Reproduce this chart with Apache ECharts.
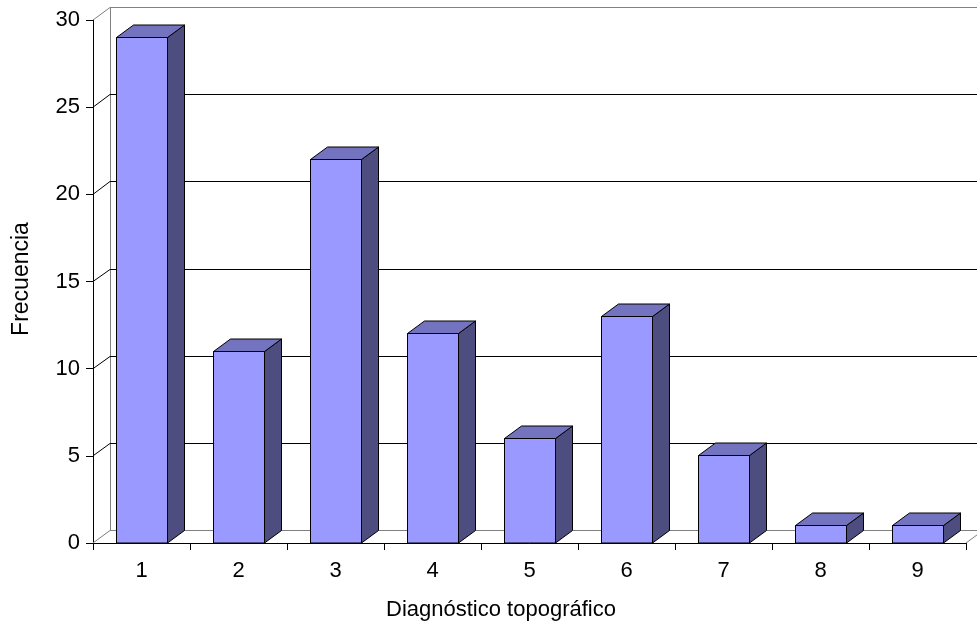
<!DOCTYPE html>
<html>
<head>
<meta charset="utf-8">
<script src="https://cdn.jsdelivr.net/npm/echarts@6/dist/echarts.min.js"></script>
<style>
  html, body { margin: 0; padding: 0; background: #ffffff; }
  #chart { width: 977px; height: 631px; }
</style>
</head>
<body>
<div id="chart"></div>
<script>
// Frequency of each topographic diagnosis
const categories = ['1', '2', '3', '4', '5', '6', '7', '8', '9'];
const frecuencias = [29, 11, 22, 12, 6, 13, 5, 1, 1];
const yTicks = [0, 5, 10, 15, 20, 25, 30];
const xTitle = 'Diagnóstico topográfico';
const yTitle = 'Frecuencia';

// Oblique depth of the 3D box (pixels)
const DX = 17, DY = -12.5;
const FONT = '"Liberation Sans", Arial, sans-serif';
const WALL = '#808080';

// Snap a horizontal line to the pixel grid so it stays crisp
function crisp(y) { return Math.round(y - 0.5) + 0.5; }

function line(x1, y1, x2, y2, color) {
  return {
    type: 'line',
    shape: { x1, y1, x2, y2 },
    style: { stroke: color, lineWidth: 1 },
    silent: true
  };
}

// Back wall, side wall and floor, one gridline per tick value
function renderWalls(params, api) {
  const cs = params.coordSys;
  const v = api.value(1);
  const y = api.coord([0, v])[1];
  const yb = crisp(y + DY);
  const x0 = cs.x;
  const xEnd = cs.x + cs.width;
  const first = v === yTicks[0];
  const last = v === yTicks[yTicks.length - 1];
  const color = (first || last) ? WALL : '#000000';
  const children = [
    line(x0, y, x0 + DX, yb, first ? WALL : color),
    line(x0 + DX, yb, xEnd + DX, yb, color)
  ];
  if (first) {
    const yTop = crisp(api.coord([0, yTicks[yTicks.length - 1]])[1] + DY);
    children.push(line(x0 + DX + 0.5, yb, x0 + DX + 0.5, yTop, WALL));
    children.push(line(xEnd, y, xEnd + DX, yb, WALL));
  }
  return { type: 'group', children };
}

// Box-shaped bar: front face, top face and right side face
function renderBar(params, api) {
  const i = api.value(0);
  const v = api.value(1);
  const top = api.coord([i, v]);
  const base = api.coord([i, 0]);
  const w = api.size([1, 0])[0] * 0.53;
  const xl = Math.round(top[0] - w / 2) + 0.5, xr = Math.round(top[0] + w / 2) + 0.5;
  const yt = crisp(top[1]), yb = base[1];
  const stroke = { stroke: '#000000', lineWidth: 1, lineJoin: 'round' };
  return {
    type: 'group',
    children: [
      {
        type: 'polygon',
        shape: { points: [[xl, yb], [xr, yb], [xr, yt], [xl, yt]] },
        style: Object.assign({ fill: '#9999FF' }, stroke)
      },
      {
        type: 'polygon',
        shape: { points: [[xr, yb], [xr + DX, yb + DY], [xr + DX, yt + DY], [xr, yt]] },
        style: Object.assign({ fill: '#4D4D80' }, stroke)
      },
      {
        type: 'polygon',
        shape: { points: [[xl, yt], [xr, yt], [xr + DX, yt + DY], [xl + DX, yt + DY]] },
        style: Object.assign({ fill: '#7373C0' }, stroke)
      }
    ]
  };
}

const chart = echarts.init(document.getElementById('chart'), null, { renderer: 'canvas' });

chart.setOption({
  backgroundColor: '#ffffff',
  animation: false,
  grid: { left: 93, right: 11, top: 20, bottom: 88, containLabel: false },
  xAxis: {
    type: 'category',
    data: categories,
    boundaryGap: true,
    axisLine: { show: true, lineStyle: { color: '#000000', width: 1 } },
    axisTick: { show: true, alignWithLabel: false, length: 7, lineStyle: { color: '#000000' } },
    axisLabel: { margin: 17, fontFamily: FONT, fontSize: 22, color: '#000000' },
    splitLine: { show: false }
  },
  yAxis: {
    type: 'value',
    min: 0,
    max: 30,
    interval: 5,
    axisLine: { show: true, lineStyle: { color: '#000000', width: 1 } },
    axisTick: { show: true, length: 7, lineStyle: { color: '#000000' } },
    axisLabel: { margin: 13, fontFamily: FONT, fontSize: 22, color: '#000000' },
    splitLine: { show: false }
  },
  graphic: [
    {
      type: 'text',
      x: 501,
      y: 610,
      silent: true,
      style: {
        text: xTitle,
        font: '22px ' + FONT,
        fill: '#000000',
        align: 'center',
        verticalAlign: 'middle'
      }
    },
    {
      type: 'text',
      x: 22,
      y: 279,
      rotation: Math.PI / 2,
      silent: true,
      style: {
        text: yTitle,
        font: '23px ' + FONT,
        fill: '#000000',
        align: 'center',
        verticalAlign: 'middle'
      }
    }
  ],
  series: [
    {
      type: 'custom',
      name: 'walls',
      renderItem: renderWalls,
      clip: false,
      silent: true,
      z: 1,
      encode: { x: 0, y: 1 },
      data: yTicks.map(v => [0, v])
    },
    {
      type: 'custom',
      name: 'Frecuencia',
      renderItem: renderBar,
      clip: false,
      z: 3,
      encode: { x: 0, y: 1 },
      data: frecuencias.map((v, i) => [i, v])
    }
  ]
});
</script>
</body>
</html>
